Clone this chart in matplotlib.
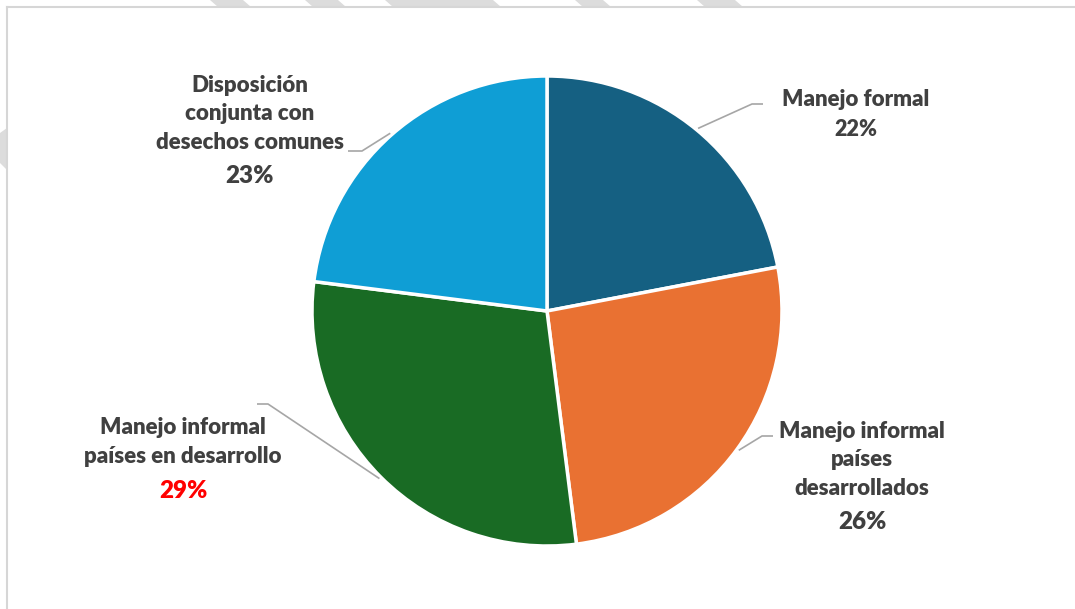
import numpy as np
import matplotlib.pyplot as plt
from matplotlib.patches import Polygon

# datos
categorias = ["Manejo formal",
              "Manejo informal\npaíses\ndesarrollados",
              "Manejo informal\npaíses en desarrollo",
              "Disposición\nconjunta con\ndesechos comunes"]
porcentajes = [22, 26, 29, 23]
colores = ["#156082", "#E97132", "#196B24", "#0F9ED5"]
color_pct = ["#404040", "#404040", "#FF0000", "#404040"]
tam_pct = [15.5, 17.5, 17.5, 17.5]

W, H = 1075, 609
fig = plt.figure(figsize=(W / 100, H / 100), dpi=100)
ax = fig.add_axes([0, 0, 1, 1])
ax.set_xlim(0, W)
ax.set_ylim(0, H)
ax.set_aspect("equal")
ax.axis("off")

def py(y):
    # pixel y (desde arriba) -> coordenada del eje
    return H - y

# franjas grises de fondo (marca de agua) y marco
franjas_top = [(210, 243), (305, 338), (385, 493), (575, 603), (697, 735)]
for x0, x1 in franjas_top:
    ax.add_patch(Polygon([(x0, py(0)), (x1, py(0)), (x1 + 8, py(7)), (x0 + 8, py(7))],
                         closed=True, color="#DCDCDC", lw=0))
ax.add_patch(Polygon([(0, py(133)), (7, py(128)), (7, py(170)), (0, py(163))],
                     closed=True, color="#DCDCDC", lw=0))
ax.plot([7, 7], [0, py(7)], color="#D6D6D6", lw=1.5)
ax.plot([7, W], [py(7), py(7)], color="#D6D6D6", lw=1.5)

centro = (547, py(311))
radio = 235
wedges, _ = ax.pie(porcentajes, colors=colores, startangle=90, counterclock=False,
                   center=centro, radius=radio,
                   wedgeprops=dict(edgecolor="white", linewidth=2.5))
ax.set_xlim(0, W)
ax.set_ylim(0, H)

# posiciones de etiquetas (px): centro x, y del nombre, y del porcentaje, codo de guia, fin de guia
etiquetas = [
    (856, 99, 130, (752, 104), (763, 104)),
    (862, 460, 522, (762, 436), (773, 436)),
    (183, 442, 491, (268, 404), (257, 404)),
    (250, 114, 176, (362, 151), (348, 151)),
]

fuente = "Lato"
for w, cat, pct, cp, tp, (tx, ty_nom, ty_pct, codo, fin) in zip(
        wedges, categorias, porcentajes, color_pct, tam_pct, etiquetas):
    ang = np.deg2rad((w.theta1 + w.theta2) / 2)
    x0 = centro[0] + (radio + 2) * np.cos(ang)
    y0 = centro[1] + (radio + 2) * np.sin(ang)
    ax.plot([x0, codo[0], fin[0]], [y0, py(codo[1]), py(fin[1])],
            color="#A6A6A6", lw=1.2, solid_capstyle="butt")
    ax.text(tx, py(ty_nom), cat, ha="center", va="center", fontsize=16,
            fontweight="heavy", color="#404040", family=fuente, linespacing=1.45)
    ax.text(tx, py(ty_pct), f"{pct}%", ha="center", va="center", fontsize=tp,
            fontweight="heavy", color=cp, family=fuente)

fig.savefig("out.png", dpi=100, facecolor="white")
